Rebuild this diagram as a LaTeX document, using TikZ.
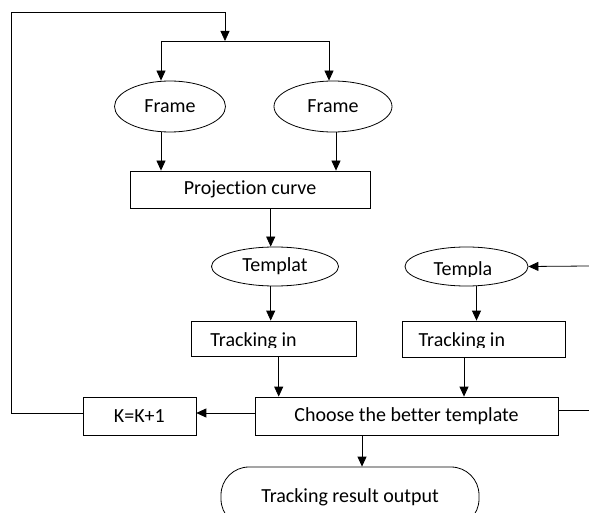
\documentclass[tikz,border=0pt]{standalone}
\usepackage{fontspec}
\setmainfont[Ligatures={NoCommon}]{Carlito}
\usetikzlibrary{arrows.meta, shapes.geometric}

\begin{document}
\begin{tikzpicture}[
            x = 1pt, y = -1pt, % pixel grid, y going down
            > = {Triangle[length=10pt, width=9pt]}, % arrow head style
            line width = 0.8pt, % line style
            every node/.style = {font=\fontsize{20}{24}\selectfont}
        ]

        \tikzstyle{oval}=[ellipse, draw, inner sep=0pt]
        \tikzstyle{block}=[rectangle, draw, inner sep=0pt]
        \tikzstyle{terminal}=[rectangle, draw, rounded corners=28pt, inner sep=0pt]

        \useasboundingbox (0,0) rectangle (589,513);
        \clip (0,0) rectangle (589,513);

        \node[oval, minimum width=111pt, minimum height=51pt] (frameA) at (170,106.5) {Frame};
        \node[oval, minimum width=118pt, minimum height=51pt] (frameB) at (333,106.5) {Frame};
        \node[block, minimum width=240pt, minimum height=37pt] (proj) at (250,189.5) {Projection curve};
        \node[oval, minimum width=127pt, minimum height=39pt] (tmplA) at (275,266.5) {Templat};
        \node[oval, minimum width=123pt, minimum height=39pt] (tmplB) at (466.5,266.5) {};
        \node[block, minimum width=165pt, minimum height=35pt] (trackA) at (274.2,338.5) {};
        \node[block, minimum width=163pt, minimum height=36pt] (trackB) at (483.4,339) {};
        \node[block, minimum width=303pt, minimum height=38pt] (choose) at (406.5,416) {Choose the better template};
        \node[block, minimum width=113pt, minimum height=38pt] (kinc) at (139.4,416) {K=K+1};
        \node[terminal, minimum width=258pt, minimum height=60pt] (result) at (350,497) {Tracking result output};

        % texts cut off at their baseline
        \begin{scope}
            \clip (405,250) rectangle (528,276);
            \node[anchor=base] (tmplBtxt) at (463,275.5) {Templa};
        \end{scope}
        \begin{scope}
            \clip (190,320) rectangle (567,347.5);
            \node[anchor=base west] (trackAtxt) at (206.7,346.7) {Tracking in};
            \node[anchor=base west] (trackBtxt) at (415,346.7) {Tracking in};
        \end{scope}

        \coordinate (split) at (225,41);
        \coordinate (splitL) at (161,41);
        \coordinate (splitR) at (329,41);
        \coordinate (loopL) at (11,413);
        \coordinate (loopT) at (11,12);
        \coordinate (inR) at (589,266);
        \coordinate (outR) at (589,410);

        \draw (splitL) -- (splitR);
        \draw[->] (splitL) -- (splitL |- frameA.north);
        \draw[->] (splitR) -- (splitR |- frameB.north);
        \draw[->] ([xshift=-9pt]frameA.south) -- ([xshift=-9pt]frameA.south |- proj.north);
        \draw[->] ([xshift=3pt]frameB.south) -- ([xshift=3pt]frameB.south |- proj.north);
        \draw[->] ([xshift=20.7pt]proj.south) -- ([xshift=20.7pt]proj.south |- tmplA.north);
        \draw[->] ([xshift=-4.3pt]tmplA.south) -- ([xshift=-4.3pt]tmplA.south |- trackA.north);
        \draw[->] ([xshift=10pt]tmplB.south) -- ([xshift=10pt]tmplB.south |- trackB.north);
        \draw[->] (inR) -- (tmplB.east);
        \draw[->] ([xshift=4.5pt]trackA.south) -- ([xshift=4.5pt]trackA.south |- choose.north);
        \draw[->] ([xshift=-19.4pt]trackB.south) -- ([xshift=-19.4pt]trackB.south |- choose.north);
        \draw (choose.east |- outR) -- (outR);
        \draw[->] (choose.west |- loopL) -- (kinc.east |- loopL);
        \draw[->] (kinc.west |- loopL) -- (loopL) -- (loopT) -| (split);
        \draw[->] ([xshift=-44.5pt]choose.south) -- ([xshift=-44.5pt]choose.south |- result.north);

    \end{tikzpicture}
\end{document}
